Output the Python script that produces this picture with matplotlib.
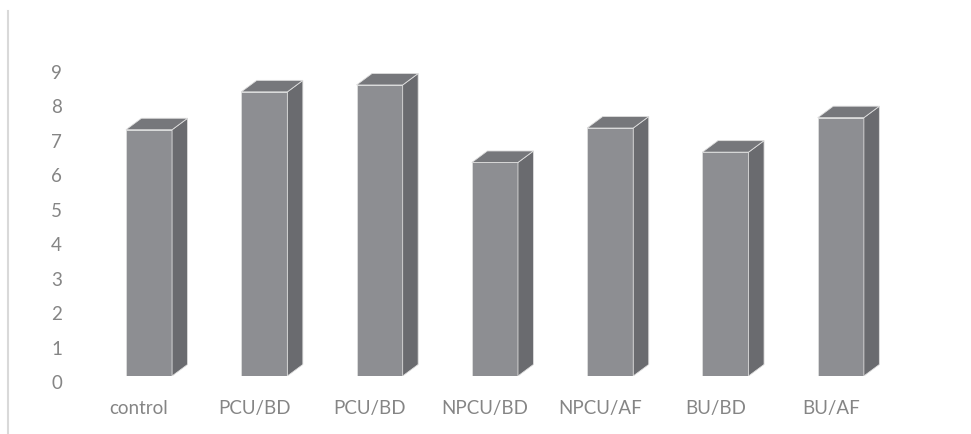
import matplotlib
matplotlib.use("Agg")
import matplotlib.pyplot as plt
from matplotlib.patches import Polygon
from matplotlib.lines import Line2D
import matplotlib.transforms as mtransforms

categories = ["control", "PCU/BD", "PCU/BD", "NPCU/BD", "NPCU/AF", "BU/BD", "BU/AF"]
values = [7.15, 8.25, 8.45, 6.2, 7.2, 6.5, 7.5]
yticks = [0, 1, 2, 3, 4, 5, 6, 7, 8, 9]

FRONT = "#8d8e92"
SIDE = "#6a6b6f"
TOP = "#76777b"
EDGE = "#dedede"
TEXT = "#858585"

W, H, DPI = 971, 434, 100
fig = plt.figure(figsize=(W / DPI, H / DPI), dpi=DPI)
fig.patch.set_facecolor("white")

# axes in pixel layout
L, R = 80, 950
B_top = 376  # pixel row (from top) of value 0
ax = fig.add_axes([L / W, (H - B_top) / H, (R - L) / W, (B_top - 31.6) / H])
px_per_cat = 115.3
x0_px = 149
ax.set_xlim((L - x0_px) / px_per_cat, (R - x0_px) / px_per_cat)
ax.set_ylim(0, 10)

for s in ax.spines.values():
    s.set_visible(False)

xs = list(range(len(categories)))
width = 0.4
ax.bar(xs, values, width=width, color=FRONT, edgecolor=EDGE, linewidth=0.6, zorder=3)

# depth in data units from pixel depth
bbox = ax.get_window_extent()
xr = ax.get_xlim(); yr = ax.get_ylim()
ddx = 15.5 * (xr[1] - xr[0]) / bbox.width
ddy = 11.5 * (yr[1] - yr[0]) / bbox.height

for x, v in zip(xs, values):
    l, r = x - width / 2, x + width / 2
    top = Polygon([(l, v), (r, v), (r + ddx, v + ddy), (l + ddx, v + ddy)],
                  closed=True, facecolor=TOP, edgecolor=EDGE, linewidth=0.6, zorder=3)
    side = Polygon([(r, 0), (r + ddx, ddy), (r + ddx, v + ddy), (r, v)],
                   closed=True, facecolor=SIDE, edgecolor=EDGE, linewidth=0.6, zorder=3)
    ax.add_patch(side)
    ax.add_patch(top)

font = "Lato"
ax.set_xticks(xs)
ax.set_xticklabels(categories, fontsize=13.5, color=TEXT, family=font)
ax.set_yticks(yticks)
ax.set_yticklabels([str(t) for t in yticks], fontsize=13.5, color=TEXT, family=font)
ax.tick_params(axis="both", length=0)
ax.tick_params(axis="y", pad=13)
ax.tick_params(axis="x", pad=17)

off_x = mtransforms.ScaledTranslation(-10 / DPI, 0, fig.dpi_scale_trans)
for lab in ax.get_xticklabels():
    lab.set_transform(lab.get_transform() + off_x)
off_y = mtransforms.ScaledTranslation(0, -6 / DPI, fig.dpi_scale_trans)
for lab in ax.get_yticklabels():
    lab.set_transform(lab.get_transform() + off_y)

# left border line of the original frame
fig.add_artist(Line2D([7.5 / W, 7.5 / W], [0, 1 - 11 / H], transform=fig.transFigure,
                      color="#d9d9d9", linewidth=1.5))

fig.savefig("out.png", dpi=DPI, facecolor="white")
